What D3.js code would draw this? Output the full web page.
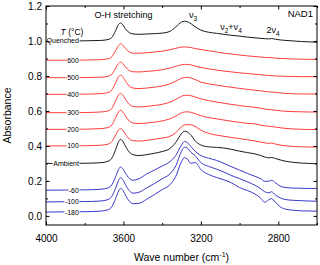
<!DOCTYPE html>
<html lang="en">
  <head>
    <title>NAD1 spectra</title>
    <script src="https://d3js.org/d3.v7.min.js"></script>
    <style>
      body {
        margin: 0;
        background-color: #fff;
        font-family: Arial, "Liberation Sans", Helvetica, sans-serif;
      }
      .tick line {
        stroke: #000;
      }
      .tick text {
        font-size: 10px;
        fill: #000;
      }
      .curve {
        fill: none;
        stroke-width: 1;
      }
    </style>
  </head>
  <body>
    <div id="chart"></div>
    <script>
      // wave numbers shared by every spectrum (cm-1)
      const waveNumbers = [4000, 3900, 3800, 3720, 3680, 3660, 3640, 3625, 3615, 3605, 3590, 3570, 3550, 3520, 3480, 3440, 3400, 3360, 3330, 3300, 3285, 3270, 3250, 3230, 3200, 3160, 3120, 3080, 3040, 3000, 2960, 2920, 2890, 2870, 2850, 2835, 2815, 2790, 2760, 2720, 2680, 2640, 2600];

      const quenched = [1.000, 1.000, 1.001, 1.003, 1.008, 1.020, 1.060, 1.095, 1.103, 1.095, 1.070, 1.048, 1.040, 1.038, 1.040, 1.042, 1.045, 1.055, 1.080, 1.108, 1.113, 1.110, 1.098, 1.082, 1.062, 1.050, 1.044, 1.038, 1.032, 1.028, 1.022, 1.018, 1.015, 1.013, 1.012, 1.014, 1.010, 1.006, 1.003, 1.000, 0.997, 0.995, 0.993];
      const t600 = [0.890, 0.890, 0.891, 0.893, 0.898, 0.910, 0.945, 0.975, 0.985, 0.978, 0.958, 0.937, 0.930, 0.930, 0.933, 0.937, 0.942, 0.950, 0.958, 0.965, 0.966, 0.965, 0.962, 0.957, 0.951, 0.944, 0.937, 0.930, 0.925, 0.920, 0.915, 0.911, 0.908, 0.906, 0.905, 0.904, 0.902, 0.900, 0.899, 0.897, 0.896, 0.895, 0.895];
      const t500 = [0.790, 0.790, 0.791, 0.793, 0.798, 0.810, 0.845, 0.872, 0.880, 0.873, 0.852, 0.831, 0.824, 0.823, 0.826, 0.830, 0.836, 0.845, 0.855, 0.864, 0.866, 0.866, 0.863, 0.857, 0.849, 0.841, 0.834, 0.828, 0.823, 0.818, 0.814, 0.810, 0.807, 0.805, 0.803, 0.802, 0.800, 0.799, 0.798, 0.797, 0.796, 0.796, 0.795];
      const t400 = [0.695, 0.695, 0.696, 0.699, 0.705, 0.720, 0.762, 0.796, 0.805, 0.798, 0.772, 0.742, 0.731, 0.728, 0.731, 0.736, 0.743, 0.755, 0.770, 0.787, 0.791, 0.792, 0.788, 0.780, 0.765, 0.755, 0.748, 0.741, 0.735, 0.729, 0.723, 0.719, 0.715, 0.712, 0.709, 0.708, 0.706, 0.703, 0.700, 0.698, 0.697, 0.697, 0.697];
      const t300 = [0.590, 0.590, 0.591, 0.594, 0.600, 0.615, 0.658, 0.692, 0.701, 0.694, 0.668, 0.638, 0.626, 0.623, 0.626, 0.631, 0.638, 0.650, 0.666, 0.684, 0.689, 0.690, 0.687, 0.680, 0.669, 0.659, 0.651, 0.644, 0.637, 0.631, 0.625, 0.621, 0.615, 0.611, 0.608, 0.607, 0.604, 0.601, 0.598, 0.596, 0.595, 0.594, 0.594];
      const t200 = [0.495, 0.495, 0.496, 0.499, 0.505, 0.520, 0.562, 0.595, 0.604, 0.597, 0.572, 0.543, 0.531, 0.528, 0.531, 0.536, 0.543, 0.555, 0.570, 0.589, 0.594, 0.595, 0.592, 0.585, 0.573, 0.562, 0.555, 0.548, 0.541, 0.535, 0.529, 0.526, 0.519, 0.515, 0.512, 0.511, 0.508, 0.504, 0.500, 0.497, 0.495, 0.494, 0.494];
      const t100 = [0.400, 0.400, 0.401, 0.404, 0.410, 0.425, 0.463, 0.492, 0.499, 0.492, 0.468, 0.440, 0.430, 0.428, 0.432, 0.438, 0.445, 0.455, 0.475, 0.510, 0.520, 0.522, 0.520, 0.512, 0.490, 0.472, 0.462, 0.455, 0.448, 0.442, 0.435, 0.428, 0.422, 0.418, 0.415, 0.416, 0.411, 0.405, 0.400, 0.397, 0.395, 0.394, 0.394];
      const ambient = [0.300, 0.300, 0.301, 0.304, 0.312, 0.330, 0.380, 0.425, 0.438, 0.430, 0.400, 0.365, 0.350, 0.345, 0.350, 0.358, 0.368, 0.385, 0.420, 0.470, 0.484, 0.480, 0.460, 0.430, 0.405, 0.395, 0.392, 0.388, 0.380, 0.370, 0.362, 0.354, 0.345, 0.337, 0.332, 0.334, 0.328, 0.320, 0.312, 0.306, 0.302, 0.300, 0.298];
      const tm60 = [0.147, 0.148, 0.149, 0.152, 0.160, 0.178, 0.225, 0.266, 0.280, 0.272, 0.245, 0.215, 0.204, 0.212, 0.240, 0.262, 0.285, 0.310, 0.345, 0.405, 0.425, 0.420, 0.395, 0.370, 0.345, 0.330, 0.318, 0.300, 0.280, 0.262, 0.243, 0.226, 0.212, 0.198, 0.198, 0.204, 0.190, 0.170, 0.162, 0.159, 0.158, 0.157, 0.157];
      const tm100 = [0.080, 0.081, 0.082, 0.085, 0.093, 0.112, 0.160, 0.203, 0.218, 0.210, 0.180, 0.145, 0.130, 0.135, 0.160, 0.185, 0.212, 0.240, 0.285, 0.370, 0.393, 0.388, 0.362, 0.345, 0.305, 0.283, 0.268, 0.250, 0.230, 0.213, 0.195, 0.175, 0.155, 0.138, 0.132, 0.138, 0.120, 0.103, 0.093, 0.089, 0.087, 0.085, 0.084];
      const tm180 = [0.022, 0.023, 0.024, 0.027, 0.035, 0.053, 0.100, 0.142, 0.157, 0.150, 0.120, 0.085, 0.070, 0.072, 0.095, 0.122, 0.150, 0.178, 0.225, 0.310, 0.333, 0.325, 0.300, 0.306, 0.265, 0.237, 0.220, 0.206, 0.188, 0.162, 0.145, 0.125, 0.100, 0.078, 0.092, 0.099, 0.078, 0.052, 0.038, 0.032, 0.029, 0.028, 0.027];

      const curveLabels = ["Quenched", "600", "500", "400", "300", "200", "100", "Ambient", "-60", "-100", "-180"];
      const curveValues = [quenched, t600, t500, t400, t300, t200, t100, ambient, tm60, tm100, tm180];
      const curveGroups = ["k", "r", "r", "r", "r", "r", "r", "k", "b", "b", "b"];

      const xTicks = [4000, 3600, 3200, 2800];
      const xMinorTicks = [3800, 3400, 3000, 2600];
      const yTicks = [0.0, 0.2, 0.4, 0.6, 0.8, 1.0, 1.2];
      const yMinorTicks = [0.1, 0.3, 0.5, 0.7, 0.9, 1.1];

      const width = 320;
      const height = 265;
      const margin = { top: 6, right: 3, bottom: 40, left: 46 };
      const colors = { k: "#1a1a1a", r: "#ff3b3b", b: "#3a3ac8" };

      const svg = d3
        .select("#chart")
        .append("svg")
        .attr("width", width)
        .attr("height", height);

      const x = d3
        .scaleLinear()
        .domain([4000, 2600])
        .range([margin.left, width - margin.right]);
      const y = d3
        .scaleLinear()
        .domain([-0.052, 1.2])
        .range([height - margin.bottom, margin.top]);

      const line = d3
        .line()
        .x((d) => x(d[0]))
        .y((d) => y(d[1]))
        .curve(d3.curveMonotoneX);

      // spectra
      curveValues.forEach((vals, i) => {
        svg
          .append("path")
          .attr("class", "curve")
          .attr("stroke", colors[curveGroups[i]])
          .attr("d", line(d3.zip(waveNumbers, vals)));
      });

      // temperature labels sitting on the lines
      const labelX = x(3830);
      curveValues.forEach((vals, i) => {
        const g = svg.append("g");
        const t = g
          .append("text")
          .attr("x", labelX)
          .attr("y", y(vals[0]))
          .attr("dy", "0.35em")
          .attr("text-anchor", "end")
          .attr("font-size", 7)
          .attr("fill", "#000")
          .text(curveLabels[i]);
        const bb = t.node().getBBox();
        g.insert("rect", "text")
          .attr("x", bb.x - 0.5)
          .attr("y", bb.y + 0.5)
          .attr("width", bb.width + 1)
          .attr("height", bb.height - 1)
          .attr("fill", "#fff");
      });

      svg
        .append("text")
        .attr("x", 72)
        .attr("y", 35)
        .attr("text-anchor", "middle")
        .attr("font-size", 8.5)
        .html('<tspan font-style="italic">T</tspan> (°C)');

      // axes with inward ticks on all four sides
      const plotH = height - margin.bottom;
      const plotR = width - margin.right;
      function addAxis(axis, tr) {
        const g = svg.append("g").attr("transform", tr).call(axis);
        g.select(".domain").remove();
        return g;
      }
      addAxis(
        d3.axisBottom(x).tickValues(xTicks).tickSize(-3.5).tickPadding(10).tickFormat(d3.format("d")),
        `translate(0,${plotH})`
      );
      addAxis(d3.axisBottom(x).tickValues(xMinorTicks).tickSize(-2).tickFormat(""), `translate(0,${plotH})`);
      addAxis(d3.axisTop(x).tickValues(xTicks).tickSize(-3.5).tickFormat(""), `translate(0,${margin.top})`);
      addAxis(d3.axisTop(x).tickValues(xMinorTicks).tickSize(-2).tickFormat(""), `translate(0,${margin.top})`);
      addAxis(
        d3.axisLeft(y).tickValues(yTicks).tickSize(-3.5).tickPadding(4).tickFormat(d3.format(".1f")),
        `translate(${margin.left},0)`
      );
      addAxis(d3.axisLeft(y).tickValues(yMinorTicks).tickSize(-2).tickFormat(""), `translate(${margin.left},0)`);
      addAxis(d3.axisRight(y).tickValues(yTicks).tickSize(-3.5).tickFormat(""), `translate(${plotR},0)`);
      addAxis(d3.axisRight(y).tickValues(yMinorTicks).tickSize(-2).tickFormat(""), `translate(${plotR},0)`);

      svg
        .append("rect")
        .attr("x", margin.left)
        .attr("y", margin.top)
        .attr("width", plotR - margin.left)
        .attr("height", plotH - margin.top)
        .attr("fill", "none")
        .attr("stroke", "#000")
        .attr("stroke-width", 1);

      // axis titles
      svg
        .append("text")
        .attr("x", (margin.left + plotR) / 2)
        .attr("y", 261)
        .attr("text-anchor", "middle")
        .attr("font-size", 10.5)
        .html('Wave number (cm<tspan dy="-4" font-size="7">-1</tspan><tspan dy="4">)</tspan>');
      svg
        .append("text")
        .attr("transform", `translate(11,${(margin.top + plotH) / 2}) rotate(-90)`)
        .attr("text-anchor", "middle")
        .attr("font-size", 10.5)
        .text("Absorbance");

      // band annotations
      svg
        .append("text")
        .attr("x", x(3600))
        .attr("y", 18)
        .attr("text-anchor", "middle")
        .attr("font-size", 9)
        .text("O-H stretching");
      svg
        .append("text")
        .attr("x", 193)
        .attr("y", 18)
        .attr("text-anchor", "middle")
        .attr("font-size", 9)
        .html('ν<tspan dy="2.5" font-size="6.5">3</tspan>');
      svg
        .append("text")
        .attr("x", 231)
        .attr("y", 30)
        .attr("text-anchor", "middle")
        .attr("font-size", 9)
        .html('ν<tspan dy="2.5" font-size="6.5">2</tspan><tspan dy="-2.5">+ν</tspan><tspan dy="2.5" font-size="6.5">4</tspan>');
      svg
        .append("text")
        .attr("x", 273)
        .attr("y", 33)
        .attr("text-anchor", "middle")
        .attr("font-size", 9)
        .html('2ν<tspan dy="2.5" font-size="6.5">4</tspan>');
      svg
        .append("text")
        .attr("x", 313)
        .attr("y", 17)
        .attr("text-anchor", "end")
        .attr("font-size", 9.5)
        .text("NAD1");
    </script>
  </body>
</html>
